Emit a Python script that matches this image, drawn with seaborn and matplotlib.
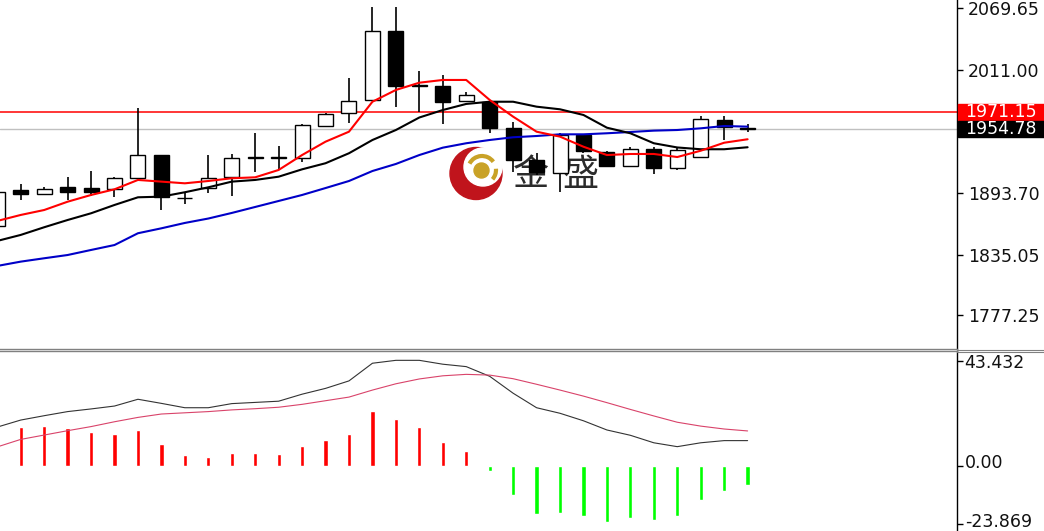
import matplotlib
matplotlib.use("Agg")
import matplotlib.pyplot as plt
import matplotlib.transforms as mtransforms
from matplotlib.patches import Rectangle, Ellipse, Arc
import seaborn as sns

sns.set_style("white")
plt.rcParams['font.family'] = ['DejaVu Sans']

# bar index (daily candles), -1 is only partly visible at the left edge
idx = list(range(-1, 32))

opens = [1862.6, 1896.1, 1892.5, 1899.7, 1898.0, 1897.8, 1907.7, 1929.8, 1889.4, 1898.0, 1909.2,
         1927.2, 1927.4, 1926.7, 1957.7, 1969.5, 1982.2, 2047.8, 1995.9, 1995.5, 1981.2, 1980.5,
         1955.8, 1925.1, 1912.4, 1948.9, 1933.0, 1919.7, 1935.6, 1917.2, 1928.2, 1963.1, 1955.5]
highs = [1896.5, 1902.3, 1899.7, 1908.6, 1914.3, 1908.9, 1974.3, 1930.3, 1894.4, 1929.8, 1930.5,
         1950.5, 1938.7, 1959.0, 1970.1, 2002.8, 2070.3, 2070.9, 2009.7, 2005.9, 1990.0, 1982.2,
         1961.5, 1931.7, 1950.5, 1949.8, 1933.6, 1937.7, 1937.7, 1937.7, 1966.9, 1966.9, 1959.3]
lows = [1861.0, 1887.0, 1891.8, 1887.0, 1891.3, 1889.6, 1907.5, 1877.5, 1883.2, 1893.4, 1891.1,
        1914.0, 1915.6, 1923.5, 1957.1, 1960.6, 1981.5, 1975.8, 1971.0, 1959.3, 1980.7, 1950.5,
        1913.7, 1910.8, 1894.9, 1931.7, 1918.4, 1918.1, 1911.8, 1915.6, 1927.7, 1944.1, 1952.0]
closes = [1894.9, 1892.8, 1897.8, 1894.7, 1895.1, 1907.7, 1929.8, 1889.6, 1888.5, 1908.4, 1926.7,
          1927.9, 1927.8, 1958.4, 1968.8, 1981.2, 2047.8, 1995.8, 1995.5, 1980.5, 1986.9, 1955.8,
          1925.1, 1913.7, 1948.9, 1933.6, 1919.7, 1935.6, 1917.8, 1934.6, 1963.8, 1956.8, 1954.78]

ma_red = [1867.1, 1872.8, 1877.5, 1885.4, 1891.8, 1897.2, 1906.1, 1904.5, 1902.9, 1905.1, 1907.7,
          1908.6, 1915.6, 1929.8, 1942.5, 1952.0, 1980.5, 1991.7, 1998.6, 2001.2, 2001.2, 1982.2,
          1966.3, 1952.0, 1947.3, 1937.7, 1929.8, 1930.8, 1930.8, 1927.9, 1933.9, 1941.5, 1944.8]
ma_black = [1848.1, 1853.8, 1861.1, 1868.0, 1874.4, 1882.3, 1889.6, 1890.2, 1894.4, 1899.1, 1904.5,
            1906.1, 1909.2, 1916.2, 1922.0, 1931.5, 1944.1, 1953.6, 1965.5, 1972.6, 1978.4, 1980.5,
            1980.5, 1975.8, 1973.3, 1967.9, 1955.8, 1950.5, 1941.0, 1937.0, 1935.3, 1935.3, 1937.2]
ma_blue = [1824.3, 1828.4, 1831.6, 1834.7, 1839.5, 1844.2, 1855.4, 1860.1, 1865.2, 1869.4, 1874.7,
           1880.4, 1886.1, 1891.8, 1898.4, 1905.1, 1914.6, 1921.3, 1929.8, 1936.8, 1941.0, 1944.1,
           1946.7, 1947.9, 1949.5, 1949.5, 1950.5, 1951.7, 1953.0, 1953.6, 1955.2, 1957.4, 1956.8]

macd_hist = [15.0, 16.3, 16.7, 15.6, 14.1, 13.2, 14.9, 9.2, 4.5, 3.7, 5.4, 5.4, 5.0, 8.1, 10.8, 13.2,
             22.6, 19.4, 16.0, 10.0, 6.2, -1.9, -11.9, -20.0, -19.6, -20.7, -23.2, -21.6, -22.3,
             -20.6, -14.1, -10.2, -7.9]
macd_line = [16.1, 19.0, 20.8, 22.5, 23.6, 24.8, 27.6, 25.9, 24.1, 24.1, 25.8, 26.3, 26.8, 29.7, 32.1,
             35.2, 42.5, 43.7, 43.7, 42.1, 41.1, 37.1, 30.1, 24.1, 21.8, 18.7, 14.9, 12.7, 9.6, 8.0,
             9.6, 10.5, 10.5]
macd_signal = [7.9, 11.0, 12.8, 14.6, 16.3, 18.3, 20.1, 21.5, 22.0, 22.5, 23.2, 23.7, 24.3, 25.5, 27.0,
               28.5, 31.4, 34.0, 36.0, 37.3, 37.9, 37.6, 36.1, 33.8, 31.4, 28.9, 26.2, 23.4, 20.7, 18.1,
               16.5, 15.3, 14.5]

price_ticks = [2069.65, 2011.00, 1893.70, 1835.05, 1777.25]
macd_ticks = [43.432, 0.0, -23.869]
macd_labels = ["43.432", "0.00", "-23.869"]
resistance = 1971.15
last_price = 1954.78

W, H = 1044, 531
fig = plt.figure(figsize=(W / 100, H / 100), dpi=100)
ax1 = fig.add_axes([0, 1 - 349 / H, 957 / W, 349 / H])
ax2 = fig.add_axes([0, 0, 957 / W, 180 / H])

# ---- price panel ----
ax1.axhline(resistance, color="red", lw=1.1, zorder=1)
ax1.axhline(last_price, color="#c0c0c0", lw=1.0, zorder=1)

# watermark logo
cx, cy = 476 / W, 1 - 173.5 / H
fig_tr = fig.transFigure
ax1.add_patch(Ellipse((cx, cy), 52 / W, 52 / H, color="#c0141c", transform=fig_tr, zorder=1.5))
ax1.add_patch(Ellipse((483 / W, 1 - 167 / H), 38 / W, 38 / H, color="white", transform=fig_tr, zorder=1.6))
ax1.add_patch(Arc((482 / W, 1 - 170 / H), 28 / W, 28 / H, theta1=55, theta2=135, color="#c9a227",
                  lw=3, transform=fig_tr, zorder=1.7))
ax1.add_patch(Arc((482 / W, 1 - 170 / H), 28 / W, 28 / H, theta1=-60, theta2=10, color="#c9a227",
                  lw=3, transform=fig_tr, zorder=1.7))
ax1.add_patch(Ellipse((481.5 / W, 1 - 170.5 / H), 15 / W, 15 / H, color="#c9a227", transform=fig_tr, zorder=1.7))
for ch, px in [("金", 531), ("盛", 580)]:
    ax1.text(px / W, 1 - 175 / H, ch, transform=fig_tr, fontsize=26, color="#2b2b2b", ha="center",
             va="center", family=["Noto Sans CJK SC", "DejaVu Sans"], zorder=1.8)

# candles
body_low = [min(o, c) for o, c in zip(opens, closes)]
body_h = [max(abs(c - o), 0.9) for o, c in zip(opens, closes)]
fills = ["white" if c > o else "black" for o, c in zip(opens, closes)]
ax1.vlines(idx, lows, highs, color="black", lw=1.2, zorder=3)
ax1.bar(idx, body_h, bottom=body_low, width=0.64, color=fills, edgecolor="black", lw=1.0, zorder=4)

sns.lineplot(x=idx, y=ma_blue, ax=ax1, color="#0000c8", lw=1.5, zorder=5)
sns.lineplot(x=idx, y=ma_black, ax=ax1, color="black", lw=1.5, zorder=5)
sns.lineplot(x=idx, y=ma_red, ax=ax1, color="#ff0000", lw=1.5, zorder=6)

ax1.set_xlim(-0.883, 39.93)
ax1.set_ylim(1745.3, 2077.26)

# ---- MACD panel ----
hist_colors = ["#ff0000" if v > 0 else "#00ff00" for v in macd_hist]
ax2.bar(idx, macd_hist, width=0.18, color=hist_colors, zorder=2)
sns.lineplot(x=idx, y=macd_line, ax=ax2, color="#333333", lw=0.8, zorder=3)
sns.lineplot(x=idx, y=macd_signal, ax=ax2, color="#d9436a", lw=0.8, zorder=3)
ax2.set_xlim(-0.883, 39.93)
ax2.set_ylim(-26.88, 47.56)

for ax, ticks, labels, pad in [(ax1, price_ticks, ["{:.2f}".format(t) for t in price_ticks], 4),
                               (ax2, macd_ticks, macd_labels, 1.5)]:
    ax.set_xticks([])
    ax.yaxis.tick_right()
    ax.set_yticks(ticks)
    ax.set_yticklabels(labels)
    ax.tick_params(axis="y", direction="out", length=4, width=1, color="black", labelsize=12.5,
                   pad=pad, labelcolor="#111111")
    ax.spines["left"].set_visible(False)
    ax.spines["right"].set_color("black")
    ax.spines["right"].set_linewidth(1.0)
    ax.set_ylabel("")
    ax.set_xlabel("")

# MT4 draws the lower labels a little above their level
for lab, dy in zip(ax2.get_yticklabels(), [0, 5, 4]):
    lab.set_transform(lab.get_transform() + mtransforms.ScaledTranslation(0, dy / 100, fig.dpi_scale_trans))

ax1.spines["top"].set_visible(False)
ax1.spines["bottom"].set_color("#808080")
ax1.spines["bottom"].set_linewidth(1.0)
ax2.spines["bottom"].set_visible(False)
ax2.spines["top"].set_color("#808080")
ax2.spines["top"].set_linewidth(1.0)

# separator line across the price scale too
fig.add_artist(plt.Line2D([957 / W, 1], [1 - 349.5 / H] * 2, color="#808080", lw=0.8))
fig.add_artist(plt.Line2D([957 / W, 1], [1 - 351.5 / H] * 2, color="#808080", lw=0.8))

# price tags on the right scale
tag_tr = mtransforms.blended_transform_factory(fig.transFigure, ax1.transData)
for val, bg in [(resistance, "#ff0000"), (last_price, "black")]:
    fig.add_artist(Rectangle((958 / W, val - 7.6), 86 / W, 15.2, transform=tag_tr, color=bg, zorder=5))
    fig.text(965 / W, val, "{:.2f}".format(val), transform=tag_tr, color="white", fontsize=12.5,
             va="center", ha="left", zorder=6)

fig.savefig("out.png", dpi=100)
